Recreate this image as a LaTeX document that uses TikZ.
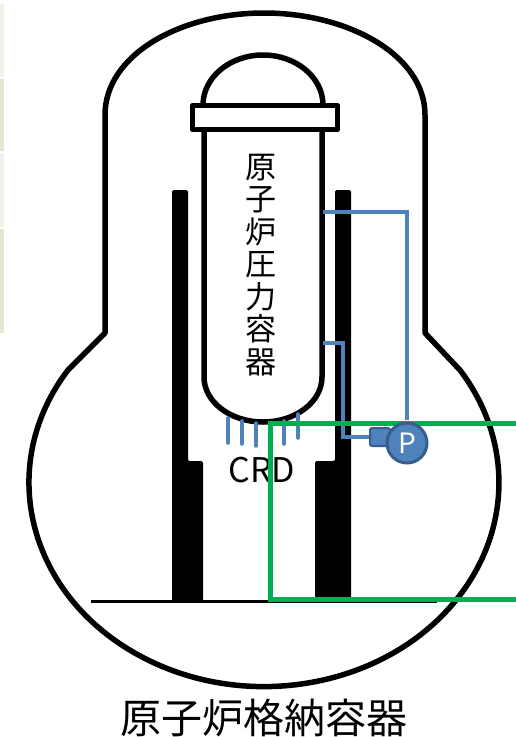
\documentclass[tikz,border=0pt]{standalone}
\usepackage{fontspec}
\setmainfont{Noto Sans CJK JP}
\definecolor{pipeblue}{RGB}{79,129,189}
\definecolor{pipedark}{RGB}{56,93,138}
\definecolor{boxgreen}{RGB}{0,176,80}
\definecolor{tabpale}{RGB}{240,243,234}
\definecolor{tabgreen}{RGB}{224,233,212}
\begin{document}
\begin{tikzpicture}[x=1pt,y=-1pt,
    wall/.style={line width=5.5pt,line join=round},
    pipe/.style={draw=pipeblue,line width=3.5pt},
    rod/.style={draw=pipeblue,line width=3.5pt,line cap=round},
    pillar/.style={fill=black,rounded corners=1.5pt}]
  \useasboundingbox (0,0) rectangle (515,737);
  \fill[white] (0,0) rectangle (515,737);
  \fill[tabpale] (0,4) rectangle (4,77);
  \fill[tabgreen] (0,79) rectangle (4,151);
  \fill[tabpale] (0,153) rectangle (4,227);
  \fill[tabgreen] (0,229) rectangle (4,333);

  % containment vessel
  \draw[wall] (105,115) -- (105,333) -- (68,370)
    arc[start angle=213.5,end angle=-33.5,x radius=235,y radius=204]
    -- (425,333) -- (425,115)
    .. controls (425,55) and (348,13) .. (264,13)
    .. controls (180,13) and (105,55) .. (105,115) -- cycle;

  % support pillars and floor
  \fill[pillar] (172,601) -- (172,190) -- (188,190) -- (188,461) -- (203,461) -- (203,601) -- cycle;
  \fill[pillar] (351,601) -- (351,190) -- (335,190) -- (335,461) -- (315,461) -- (315,601) -- cycle;
  \draw[line width=3pt] (91,601) -- (437,601);

  % pressure vessel
  \draw[wall] (203,105) arc[start angle=180,end angle=360,x radius=60,y radius=50];
  \draw[wall] (204,130) -- (204,377)
    arc[start angle=180,end angle=0,x radius=59,y radius=45] -- (322,130);
  \draw[wall,fill=white] (192.5,105.5) rectangle (337.5,129.5);
  \node[align=center,inner sep=0pt,font=\fontsize{31}{32.5}\selectfont] (rpvtext) at (261,265)
    {原\\子\\炉\\圧\\力\\容\\器};
  \coordinate (rpvhi) at (323,212);
  \coordinate (rpvlo) at (323,343);

  % control rod drives
  \foreach \x/\ya/\yb in {228/418/443,242/421/444,256/423/446,270/424/446,284/421/444,298/414/438}
    \draw[rod] (\x,\ya) -- (\x,\yb);
  \node[font=\fontsize{34}{34}\selectfont,inner sep=0pt] (crd) at (262,470) {CRD};

  % pressure gauge
  \node[draw=pipedark,fill=pipeblue,line width=2pt,rounded corners=2pt,
    minimum width=20pt,minimum height=18pt,inner sep=0pt] (pconn) at (380,437) {};
  \draw[pipe] (rpvhi) -| (407,420);
  \draw[pipe] (rpvlo) -- ++(20,0) |- (pconn.west);

  \draw[draw=boxgreen,line width=5pt] (520,423) -| (270,599) -- (520,599);

  \node[circle,draw=pipedark,fill=pipeblue,line width=3pt,minimum size=40pt,inner sep=0pt,
    text=white,font=\fontsize{28}{28}\selectfont] (pgauge) at (407,443) {P};

  \node[font=\fontsize{41}{41}\selectfont,inner sep=0pt] (pcv) at (264,718) {原子炉格納容器};
\end{tikzpicture}
\end{document}
